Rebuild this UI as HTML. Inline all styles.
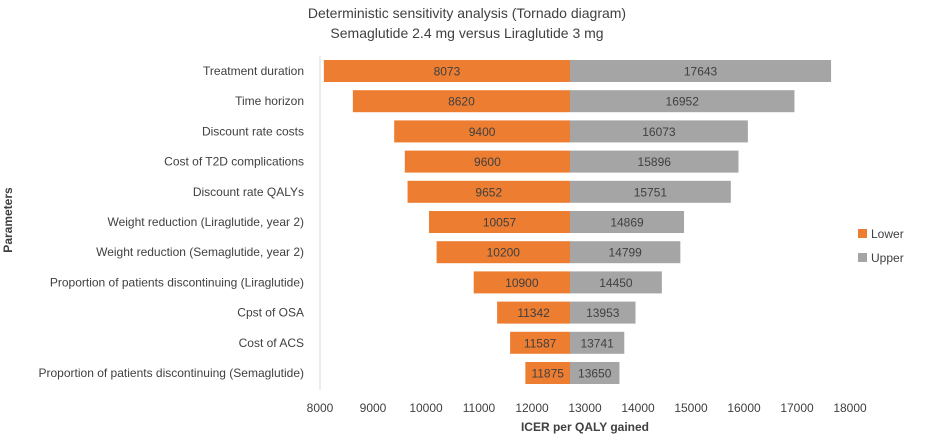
<!DOCTYPE html>
<html><head><meta charset="utf-8"><style>
body{margin:0;background:#fff;font-family:"Liberation Sans",sans-serif}
svg text{font-family:"Liberation Sans",sans-serif;fill:#404040}
</style></head><body>
<svg width="935" height="439" id="c">
<text x="467" y="18" text-anchor="middle" font-size="14">Deterministic sensitivity analysis (Tornado diagram)</text>
<text x="467" y="38" text-anchor="middle" font-size="14">Semaglutide 2.4 mg versus Liraglutide 3 mg</text>
<text transform="translate(12,220) rotate(-90)" text-anchor="middle" font-size="12" font-weight="bold">Parameters</text>
<text x="585" y="431" text-anchor="middle" font-size="12" font-weight="bold">ICER per QALY gained</text>
<line x1="320" y1="56" x2="320" y2="390" stroke="#d9d9d9"/>
<g id="bars"></g>
<rect x="858" y="229" width="9" height="9" fill="#ED7D31"/>
<text x="871" y="238" font-size="12">Lower</text>
<rect x="858" y="253" width="9" height="9" fill="#A5A5A5"/>
<text x="871" y="262" font-size="12">Upper</text>
</svg>
<script>
const categories=["Treatment duration","Time horizon","Discount rate costs","Cost of T2D complications","Discount rate QALYs","Weight reduction (Liraglutide, year 2)","Weight reduction (Semaglutide, year 2)","Proportion of patients discontinuing (Liraglutide)","Cpst of OSA","Cost of ACS","Proportion of patients discontinuing (Semaglutide)"];
const lowerValues=[8073,8620,9400,9600,9652,10057,10200,10900,11342,11587,11875];
const upperValues=[17643,16952,16073,15896,15751,14869,14799,14450,13953,13741,13650];
const baseValue=12717;
const ticks=[8000,9000,10000,11000,12000,13000,14000,15000,16000,17000,18000];
const NS="http://www.w3.org/2000/svg";
const g=document.getElementById('bars');
const x=v=>320+(v-8000)*530/10000;
const y=i=>71+i*30.2;
function mk(t,a){const e=document.createElementNS(NS,t);for(const k in a)e.setAttribute(k,a[k]);g.appendChild(e);return e;}
categories.forEach((c,i)=>{
 const cy=y(i);
 const l=mk('text',{x:304,y:cy+4,'text-anchor':'end','font-size':12});l.textContent=c;
 
 
 const lo=Math.min(lowerValues[i],baseValue);
 const r1=mk('rect',{x:x(lo),y:cy-11,width:x(baseValue)-x(lo),height:22,fill:'#ED7D31'});
 
 
 const r2=mk('rect',{x:x(baseValue),y:cy-11,width:x(upperValues[i])-x(baseValue),height:22,fill:'#A5A5A5'});
 
 
 const t1=mk('text',{x:(x(lo)+x(baseValue))/2,y:cy+4.5,'text-anchor':'middle','font-size':12});t1.textContent=lowerValues[i];
 
 
 const t2=mk('text',{x:(x(upperValues[i])+x(baseValue))/2,y:cy+4.5,'text-anchor':'middle','font-size':12});t2.textContent=upperValues[i];
 
 
});
ticks.forEach(t=>{
 const e=mk('text',{x:x(t),y:412,'text-anchor':'middle','font-size':12});e.textContent=t;
 
 
});
</script>
</body></html>
